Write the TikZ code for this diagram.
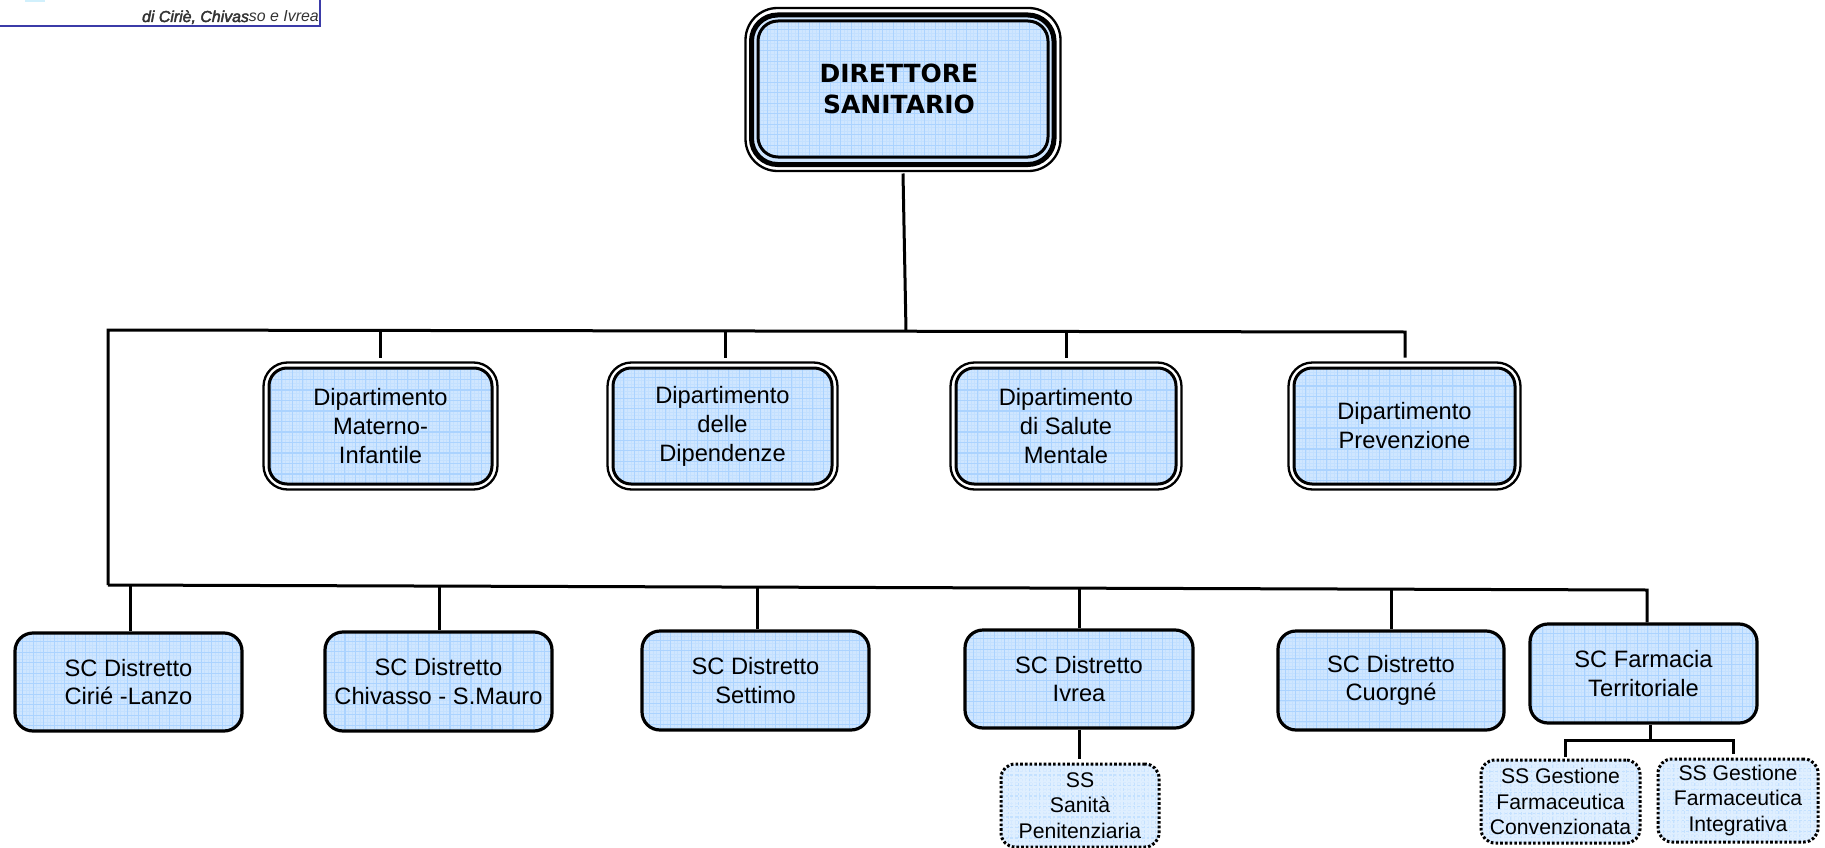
\documentclass[tikz,border=0pt]{standalone}
\usepackage{fontspec}
\setmainfont{Liberation Sans}
\newfontfamily\dirfont{DejaVu Sans}
\newfontfamily\logofb[RawFeature={embolden=2.5}]{Liberation Sans Italic}
\definecolor{boxfill}{HTML}{CFE6FF}
\definecolor{boxgrid}{HTML}{ABD3FF}
\definecolor{boxfine}{HTML}{C3E0FF}
\definecolor{subfill}{HTML}{DFEFFF}
\definecolor{subgrid}{HTML}{C4E1FF}
\definecolor{subfine}{HTML}{D5E9FF}
\definecolor{logoblue}{HTML}{3B3BA8}
\newcommand{\gridfill}[2]{%
  \draw[#2,line width=.6pt,step=3.5pt] (path picture bounding box.south west) grid (path picture bounding box.north east);
  \draw[#1,line width=1.1pt,step=10.5pt] (path picture bounding box.south west) grid (path picture bounding box.north east);}
\tikzset{
  x=1pt,y=-1pt,
  every node/.style={align=center,inner sep=0pt},
  conn/.style={line width=3pt,black,line cap=butt,line join=miter},
  scbox/.style={draw=black,line width=3.2pt,rounded corners=18pt,fill=boxfill,
    path picture={\gridfill{boxgrid}{boxfine}},
    execute at begin node={\rule{0pt}{24pt}},
    font=\fontsize{23.7}{28.5}\selectfont},
  deptbox/.style={scbox,line width=3pt,font=\fontsize{23.7}{29}\selectfont},
  dirbox/.style={scbox,rounded corners=20pt,line width=3pt,execute at begin node={},font=\dirfont\bfseries\fontsize{25}{31}\selectfont},
  ssbox/.style={draw=black,line width=3pt,dash pattern=on 2.6pt off 2.1pt,rounded corners=14pt,fill=subfill,
    path picture={\gridfill{subgrid}{subfine}},
    execute at begin node={\rule{0pt}{22pt}},
    font=\fontsize{21.2}{25.2}\selectfont},
  frameline/.style={draw=black,line width=2.3pt,fill=white},
}
% \deptnode{name}{left}{top}{right}{bottom}{text}
\newcommand{\deptnode}[6]{%
  \draw[frameline,rounded corners=24pt] (#2-5.5,#3-5.5) rectangle (#4+5.5,#5+5.5);
  \node[deptbox,minimum width=#4-#2,minimum height=#5-#3] (#1) at ({(#2+#4)/2},{(#3+#5)/2}) {#6};
}
\begin{document}
\begin{tikzpicture}
\useasboundingbox (0,0) rectangle (1825,848);
% logo fragment
\fill[cyan!18] (25,0) rectangle (45,2);
\draw[logoblue,line width=2pt] (0,26) -- (320,26) -- (320,0);
\node[anchor=base east,font=\fontsize{15.9}{20}\selectfont,text=black!80] (logotext) at (319,22)
  {{\logofb di Ciriè, Chivas}\itshape so e Ivrea};
% director
\draw[frameline,rounded corners=32pt] (745.5,8) rectangle (1060.5,171);
\draw[draw=black,line width=5pt,fill=boxfill,rounded corners=26pt] (751.5,15) rectangle (1054,164.5);
\node[dirbox,minimum width=290,minimum height=136] (dir) at (903,89) {DIRETTORE\hspace*{8pt}\\SANITARIO\hspace*{8pt}};
% departments
\deptnode{d1}{269}{368}{492}{484}{Dipartimento\\Materno-\\Infantile}
\deptnode{d2}{613}{368}{832}{484}{Dipartimento\\delle\\Dipendenze}
\deptnode{d3}{956}{368}{1176}{484}{Dipartimento\\di Salute\\Mentale}
\deptnode{d4}{1294}{368}{1515}{484}{Dipartimento\\Prevenzione}
% SC boxes
\node[scbox,minimum width=227,minimum height=98] (s1) at (128.5,682) {SC Distretto\\Cirié -Lanzo};
\node[scbox,minimum width=227,minimum height=99] (s2) at (438.5,681.5) {SC Distretto\\Chivasso - S.Mauro};
\node[scbox,minimum width=227,minimum height=99] (s3) at (755.5,680.5) {SC Distretto\\Settimo};
\node[scbox,minimum width=228,minimum height=98] (s4) at (1079,679) {SC Distretto\\Ivrea};
\node[scbox,minimum width=226,minimum height=99] (s5) at (1391,680.5) {SC Distretto\\Cuorgné};
\node[scbox,minimum width=227,minimum height=99] (s6) at (1643.5,673.5) {SC Farmacia\\Territoriale};
% SS boxes
\node[ssbox,minimum width=158,minimum height=83] (p1) at (1080,805.5) {SS\\Sanità\\Penitenziaria};
\node[ssbox,minimum width=159,minimum height=83] (f1) at (1560.5,801.5) {SS Gestione\\Farmaceutica\\Convenzionata};
\node[ssbox,minimum width=160,minimum height=83] (f2) at (1738,800.5) {SS Gestione\\Farmaceutica\\Integrativa};
% buses
\coordinate (busTL) at (108,330);
\coordinate (busTR) at (1405,332);
\coordinate (busBL) at (108,585);
\coordinate (busBR) at (1647,590);
\coordinate (dirTap) at (906,331);
\coordinate (t1) at (380,330); \coordinate (t2) at (725,331); \coordinate (t3) at (1066,331);
\coordinate (u1) at (130,586); \coordinate (u2) at (439,586); \coordinate (u3) at (757,587);
\coordinate (u4) at (1079,588); \coordinate (u5) at (1391,589);
\coordinate (fj) at (1650,740); \coordinate (fl) at (1565,740); \coordinate (fr) at (1733,740);
\draw[conn] ([yshift=-15pt]dir.south) -- (dirTap);
\draw[conn] (busBL) -- (busTL) -- (busTR) -- ([yshift=9pt]busTR |- d4.north);
\draw[conn] (busBL) -- (busBR) -- (busBR |- s6.north);
% department taps
\draw[conn] (t1) -- ([yshift=9pt]t1 |- d1.north);
\draw[conn] (t2) -- ([yshift=9pt]t2 |- d2.north);
\draw[conn] (t3) -- ([yshift=9pt]t3 |- d3.north);
% SC taps
\draw[conn] (u1) -- (u1 |- s1.north);
\draw[conn] (u2) -- (u2 |- s2.north);
\draw[conn] (u3) -- (u3 |- s3.north);
\draw[conn] (u4) -- (u4 |- s4.north);
\draw[conn] (u5) -- (u5 |- s5.north);
% sub-branches
\draw[conn] (s4.south) -- ([yshift=4pt]s4.south |- p1.north);
\draw[conn] (fj |- s6.south) -- (fj);
\draw[conn] ([yshift=2pt]fl |- f1.north) -- (fl) -- (fr) -- ([yshift=4pt]fr |- f2.north);
\end{tikzpicture}
\end{document}
